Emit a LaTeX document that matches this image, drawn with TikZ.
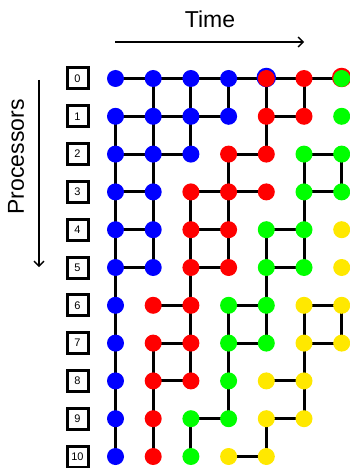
\documentclass[tikz,border=0pt]{standalone}
\usepackage{fontspec}
\setmainfont{Liberation Sans}
\usetikzlibrary{arrows.meta,backgrounds}
\definecolor{cB}{RGB}{0,0,255}
\definecolor{cR}{RGB}{255,0,0}
\definecolor{cG}{RGB}{0,255,0}
\definecolor{cY}{RGB}{255,232,0}
\tikzset{
  task/.style={circle, inner sep=0pt, minimum size=17pt},
  edge/.style={line width=3pt, black},
  procbox/.style={draw, line width=3pt, rectangle, minimum size=21pt, inner sep=0pt,
    font=\fontsize{11}{13}\selectfont},
  axis/.style={line width=1.4pt, -{Straight Barb[length=5pt,width=10pt,line width=1.4pt]}},
  axislabel/.style={font=\fontsize{23}{27}\selectfont}
}
\begin{document}
\begin{tikzpicture}[x=1pt, y=-1pt]
\useasboundingbox (0,0) rectangle (350,468);

% axes
\coordinate (t0) at (115,42);
\coordinate (t1) at (304,42);
\draw[axis] (t0) -- (t1);
\node[axislabel] (timelbl) at (210,19) {Time};
\coordinate (p0) at (39,80);
\coordinate (p1) at (39,267);
\draw[axis] (p0) -- (p1);
\node[axislabel, rotate=90] (proclbl) at (16,157) {Processors};

% processor labels
\foreach \r in {0,...,10}
  \node[procbox] (box\r) at ({77.5}, {78.5+37.8*\r}) {\r};

% underlying tasks hidden behind later ones in the first row
\node[task, fill=cB, minimum size=19.5pt] (under4) at (266.3, 77.5) {};
\node[task, fill=cR, minimum size=19.5pt] (under6) at (341.7, 77.5) {};

% tasks: one row per processor, one column per time step
\foreach \r/\cols in {
  0/{B,B,B,B,R,R,G},
  1/{B,B,B,B,R,R,G},
  2/{B,B,B,R,R,G,G},
  3/{B,B,R,R,R,G,G},
  4/{B,B,R,R,G,G,Y},
  5/{B,B,R,R,G,G,Y},
  6/{B,R,R,G,G,Y,Y},
  7/{B,R,R,G,G,Y,Y},
  8/{B,R,R,G,Y,Y},
  9/{B,R,G,G,Y,Y},
  10/{B,R,G,Y,Y}}{
  \foreach \col [count=\i from 0] in \cols {
    \pgfmathsetmacro{\tx}{115.5+37.7*\i}
    \pgfmathsetmacro{\ty}{78.5+37.8*\r}
    \node[task, fill=c\col] (n\r-\i) at (\tx, \ty) {};
  }
}

\begin{scope}[on background layer]
% communication along a processor
\foreach \r/\cs in {
  0/{0,1,2,3,4,5}, 1/{0,1,2,4}, 2/{0,1,3,5}, 3/{0,2,3,5}, 4/{0,2,4},
  5/{0,2,4}, 6/{1,3,5}, 7/{1,3,5}, 8/{1,4}, 9/{2,4}, 10/{3}}{
  \foreach \c in \cs {
    \pgfmathtruncatemacro{\d}{\c+1}
    \draw[edge] (n\r-\c.center) -- (n\r-\d.center);
  }
}
% communication between processors
\foreach \r/\cs in {
  0/{1,2,3,4,5}, 1/{0,1,2,4}, 2/{0,1,3,5,6}, 3/{0,1,2,3,5}, 4/{0,1,2,3,4,5},
  5/{0,2,4}, 6/{0,2,3,4,5,6}, 7/{0,1,2,3,5}, 8/{0,1,3,5}, 9/{0,1,2,4}}{
  \foreach \c in \cs {
    \pgfmathtruncatemacro{\s}{\r+1}
    \draw[edge] (n\r-\c.center) -- (n\s-\c.center);
  }
}
\end{scope}
\end{tikzpicture}
\end{document}
